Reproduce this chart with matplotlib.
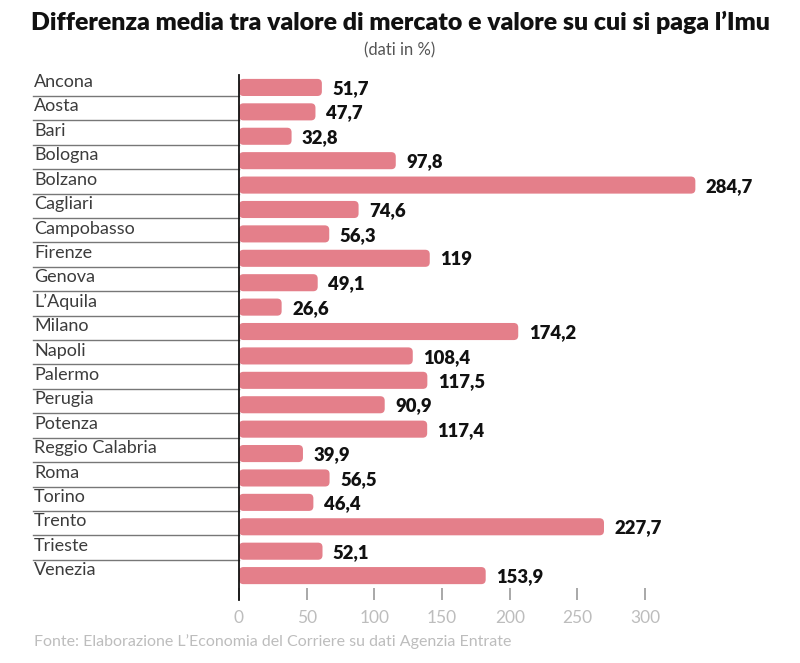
import matplotlib.pyplot as plt
from matplotlib.patches import FancyBboxPatch
import matplotlib.transforms as mtransforms

cities = ["Ancona", "Aosta", "Bari", "Bologna", "Bolzano", "Cagliari", "Campobasso",
          "Firenze", "Genova", "L\u2019Aquila", "Milano", "Napoli", "Palermo", "Perugia",
          "Potenza", "Reggio Calabria", "Roma", "Torino", "Trento", "Trieste", "Venezia"]
values = [51.7, 47.7, 32.8, 97.8, 284.7, 74.6, 56.3, 119, 49.1, 26.6, 174.2, 108.4,
          117.5, 90.9, 117.4, 39.9, 56.5, 46.4, 227.7, 52.1, 153.9]
value_labels = ["51,7", "47,7", "32,8", "97,8", "284,7", "74,6", "56,3", "119", "49,1",
                "26,6", "174,2", "108,4", "117,5", "90,9", "117,4", "39,9", "56,5",
                "46,4", "227,7", "52,1", "153,9"]
axis_ticks = [0, 50, 100, 150, 200, 250, 300]
# the printed axis in the original is not to the same scale as the bars
axis_ratio = 1.184

plt.rcParams['font.family'] = ['Lato', 'DejaVu Sans']

fig = plt.figure(figsize=(8, 6.63), dpi=100)
ax = fig.add_axes([239 / 800, 1 - 600 / 663, 545 / 800, 525 / 663])

bar_color = "#e47f8a"
pos = list(range(len(cities)))
bars = ax.barh(pos, values, height=0.70, color=bar_color, alpha=0)
ax.set_xlim(0, 340)
ax.set_ylim(21.0, -0.51)

# rounded bars
px_x = ax.transData.transform((1, 0))[0] - ax.transData.transform((0, 0))[0]
px_y = abs(ax.transData.transform((0, 1))[1] - ax.transData.transform((0, 0))[1])
r = 4.5 / px_x
aspect = (4.5 / px_y) / r
for b in bars:
    p = FancyBboxPatch((b.get_x(), b.get_y()), b.get_width(), b.get_height(),
                       boxstyle=f"round,pad=0,rounding_size={r}",
                       mutation_aspect=aspect, fc=bar_color, ec="none")
    ax.add_patch(p)

for i, (v, lab) in enumerate(zip(values, value_labels)):
    ax.text(v + 6.5, i + 0.05, lab, va="center", ha="left", fontsize=13.3,
            fontweight="heavy", color="#111111")

trans = mtransforms.blended_transform_factory(ax.transAxes, ax.transData)
for i, c in enumerate(cities):
    ax.text(-0.376, i - 0.22, c, transform=trans, va="center", ha="left",
            fontsize=13, fontweight="normal", color="#3c3c3c")
    if i < len(cities) - 1:
        ax.plot([-0.378, 0], [i + 0.35, i + 0.35], transform=trans, color="#777777",
                lw=1, clip_on=False)

for s in ["top", "right", "bottom"]:
    ax.spines[s].set_visible(False)
ax.spines["left"].set_linewidth(1.3)
ax.spines["left"].set_color("#111111")
ax.set_yticks([])
ax.set_xticks([])

sec = ax.secondary_xaxis("bottom", functions=(lambda x: x * axis_ratio,
                                               lambda x: x / axis_ratio))
sec.set_xticks(axis_ticks)
sec.spines["bottom"].set_visible(False)
sec.tick_params(direction="in", length=9, width=1.2, color="#999999",
                labelcolor="#bdbdbd", labelsize=12.5, pad=7)

fig.text(0.5, 1 - 22 / 663, "Differenza media tra valore di mercato e valore su cui si paga l\u2019Imu",
         ha="center", va="center", fontsize=17.9, fontweight="heavy", color="#111111")
fig.text(0.5, 1 - 50 / 663, "(dati in %)", ha="center", va="center", fontsize=12,
         fontweight="normal", color="#555555")
fig.text(34 / 800, 1 - 642 / 663,
         "Fonte: Elaborazione L\u2019Economia del Corriere su dati Agenzia Entrate",
         ha="left", va="center", fontsize=11.5, fontweight="normal", color="#bdbdbd")

fig.savefig("out.png", dpi=100)
